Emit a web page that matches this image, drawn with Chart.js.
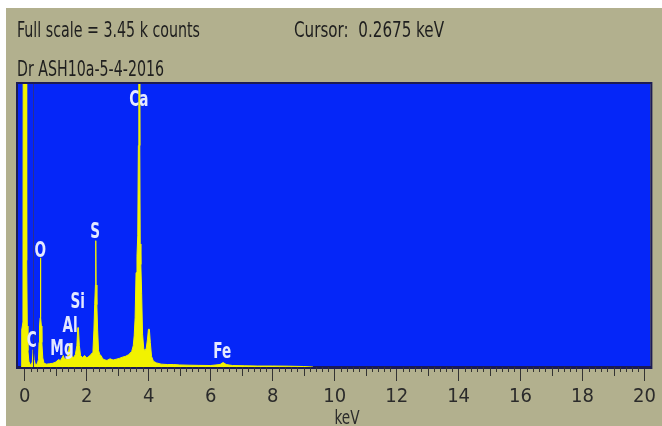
<!DOCTYPE html>
<html>
<head>
<meta charset="utf-8">
<script src="https://cdn.jsdelivr.net/npm/chart.js@4/dist/chart.umd.min.js"></script>
<style>
    html, body { margin: 0; padding: 0; background: #b2b08e; }
    canvas { display: block; }
</style>
</head>
<body>
<canvas id="spectrum" width="662" height="426"></canvas>
<script>
"use strict";

// スペクトル: エネルギー (keV)
const energies = [
    -0.12, -0.1, -0.06, -0.05, 0.04, 0.05, 0.07, 0.08, 0.1, 0.13, 0.17, 0.2,
    0.24, 0.27, 0.3, 0.34, 0.4, 0.44, 0.46, 0.475, 0.495, 0.505, 0.515, 0.535, 0.55, 0.58, 0.62,
    0.7, 0.8, 0.9, 1.0, 1.08, 1.15, 1.2, 1.24, 1.28, 1.33, 1.38, 1.42, 1.45, 1.48,
    1.52, 1.57, 1.63, 1.68, 1.71, 1.73, 1.76, 1.8, 1.86, 1.93, 2.0, 2.07, 2.13,
    2.17, 2.2, 2.23, 2.255, 2.28, 2.29, 2.3, 2.325, 2.35, 2.38, 2.42, 2.46, 2.5, 2.55, 2.65,
    2.75, 2.85, 2.95, 3.05, 3.15, 3.25, 3.35, 3.45, 3.5, 3.53, 3.56, 3.59, 3.62, 3.645,
    3.665, 3.68, 3.695, 3.71, 3.725, 3.745, 3.77, 3.8, 3.84, 3.88, 3.92, 3.96, 3.99,
    4.02, 4.05, 4.09, 4.15, 4.25, 4.4, 4.6, 4.8, 5.0, 5.3, 5.6, 6.0, 6.3, 6.4,
    6.5, 6.7, 7.1, 7.5, 8.0, 8.5, 9.0, 9.3
];
// スペクトル: カウント
const counts = [
    0, 450, 550, 4500, 4500, 1400, 1300, 500, 200, 70, 30, 25,
    60, 210, 90, 30, 35, 90, 300, 500, 600, 1330, 600, 500, 300, 110, 45,
    35, 40, 45, 60, 90, 80, 110, 140, 100, 95, 130, 210, 290, 210,
    130, 115, 150, 260, 480, 480, 260, 140, 115, 140, 110, 130, 150,
    170, 200, 450, 760, 1000, 1540, 1000, 760, 450, 200, 150, 140, 110, 90, 80,
    100, 85, 95, 105, 120, 130, 150, 190, 260, 380, 600, 1150, 1350, 1600,
    2700, 3600, 3600, 2700, 1500, 1250, 900, 400, 220, 200, 230, 340, 460,
    460, 300, 130, 70, 50, 35, 30, 30, 25, 22, 20, 18, 30, 55,
    30, 18, 15, 12, 12, 10, 6, 0
];

// 元素ラベル
const peakNames = ["C", "O", "Mg", "Al", "Si", "S", "Ca", "Fe"];
const peakKeV = [0.22, 0.5, 1.2, 1.46, 1.71, 2.27, 3.68, 6.37];
const peakLabelCounts = [244, 1341, 146, 427, 719, 1573, 3182, 110];

// x軸目盛
const xTickLabels = [0, 2, 4, 6, 8, 10, 12, 14, 16, 18, 20];

const fullScale = 3450;
const cursorKeV = 0.2675;
const sampleName = "Dr ASH10a-5-4-2016";
const xTitle = "keV";

const NARROW = "'Liberation Sans Narrow', 'DejaVu Sans Condensed', 'Liberation Sans', sans-serif";

// 幅を合わせて文字を描く
function drawFitText(ctx, text, x, baseline, width, font, color) {
    ctx.save();
    ctx.font = font;
    ctx.fillStyle = color;
    ctx.textBaseline = "alphabetic";
    ctx.textAlign = "left";
    const w = ctx.measureText(text).width;
    ctx.translate(x, baseline);
    ctx.scale(width / w, 1);
    ctx.fillText(text, 0, 0);
    ctx.restore();
}

// 横に詰めて中央揃えで描く
function drawNarrowText(ctx, text, cx, baseline, squeeze, font, color) {
    ctx.save();
    ctx.font = font;
    ctx.fillStyle = color;
    ctx.textBaseline = "alphabetic";
    ctx.textAlign = "center";
    ctx.translate(cx, baseline);
    ctx.scale(squeeze, 1);
    ctx.fillText(text, 0, 0);
    ctx.restore();
}

const panelPlugin = {
    id: "panel",
    beforeDraw(chart) {
        const ctx = chart.ctx;
        const a = chart.chartArea;
        ctx.save();
        ctx.fillStyle = "#b2b08e";
        ctx.fillRect(0, 0, chart.width, chart.height);
        ctx.fillStyle = "#ffffff";
        ctx.fillRect(0, 0, chart.width, 8);
        ctx.fillRect(0, 0, 6, chart.height);
        ctx.fillStyle = "#0526f8";
        ctx.fillRect(a.left, a.top, a.right - a.left, a.bottom - a.top);
        ctx.restore();
    },
    afterDatasetsDraw(chart) {
        const ctx = chart.ctx;
        const a = chart.chartArea;
        const xs = chart.scales.x;
        const ys = chart.scales.y;
        ctx.save();
        // カーソル
        const cx = Math.round(xs.getPixelForValue(cursorKeV)) + 0.5;
        ctx.strokeStyle = "#2a3090";
        ctx.lineWidth = 1;
        ctx.beginPath();
        ctx.moveTo(cx, a.top);
        ctx.lineTo(cx, a.bottom);
        ctx.stroke();
        // 枠
        ctx.strokeStyle = "#1b1b55";
        ctx.lineWidth = 2;
        ctx.strokeRect(a.left - 1, a.top - 1, a.right - a.left + 2, a.bottom - a.top + 2);
        ctx.restore();
        // 元素名
        peakNames.forEach((name, i) => {
            drawNarrowText(ctx, name, xs.getPixelForValue(peakKeV[i]), ys.getPixelForValue(peakLabelCounts[i]),
                0.72, "bold 21px " + NARROW, "#e4e9ff");
        });
    },
    afterDraw(chart) {
        const ctx = chart.ctx;
        const a = chart.chartArea;
        const xs = chart.scales.x;
        ctx.save();
        // 小目盛
        ctx.strokeStyle = "#333333";
        ctx.lineWidth = 1;
        ctx.beginPath();
        for (let i = 0; i <= 100; i++) {
            if (i % 10 === 0) continue;
            const len = (i % 5 === 0) ? 9 : 5;
            const px = Math.round(xs.getPixelForValue(i * 0.2)) + 0.5;
            ctx.moveTo(px, a.bottom);
            ctx.lineTo(px, a.bottom + len);
        }
        ctx.stroke();
        ctx.restore();
        // 軸タイトル
        drawNarrowText(ctx, xTitle, xs.getPixelForValue(10.4), 424, 0.8, "19px " + NARROW, "#2b2b2b");
        // ヘッダー
        const font = "21px " + NARROW;
        drawFitText(ctx, "Full scale = " + (fullScale / 1000).toFixed(2) + " k counts", 17, 37, 183, font, "#1e1e1e");
        drawFitText(ctx, "Cursor:  " + cursorKeV.toFixed(4) + " keV", 294, 37, 150, font, "#1e1e1e");
        drawFitText(ctx, sampleName, 17, 76, 147, font, "#1e1e1e");
    }
};

const points = energies.map((e, i) => ({ x: e, y: counts[i] }));

new Chart(document.getElementById("spectrum"), {
    type: "line",
    data: {
        datasets: [{
            data: points,
            borderColor: "#f2f200",
            backgroundColor: "#f2f200",
            borderWidth: 1,
            pointRadius: 0,
            tension: 0,
            fill: "origin"
        }]
    },
    options: {
        responsive: false,
        animation: false,
        devicePixelRatio: 1,
        layout: { padding: { left: 18, right: 6, top: 84, bottom: 13 } },
        plugins: {
            legend: { display: false },
            tooltip: { enabled: false }
        },
        scales: {
            x: {
                type: "linear",
                min: -0.22,
                max: 20.19,
                grid: {
                    drawOnChartArea: false,
                    tickLength: 14,
                    tickColor: "#333333"
                },
                border: { display: true, color: "#1b1b55", width: 2 },
                ticks: {
                    stepSize: 2,
                    includeBounds: false,
                    autoSkip: false,
                    maxRotation: 0,
                    padding: 6,
                    color: "#2b2b2b",
                    font: { family: NARROW, size: 20, lineHeight: 1 },
                    callback: v => xTickLabels.includes(v) ? String(v) : ""
                }
            },
            y: {
                display: false,
                min: 0,
                max: fullScale
            }
        }
    },
    plugins: [panelPlugin]
});
</script>
</body>
</html>
